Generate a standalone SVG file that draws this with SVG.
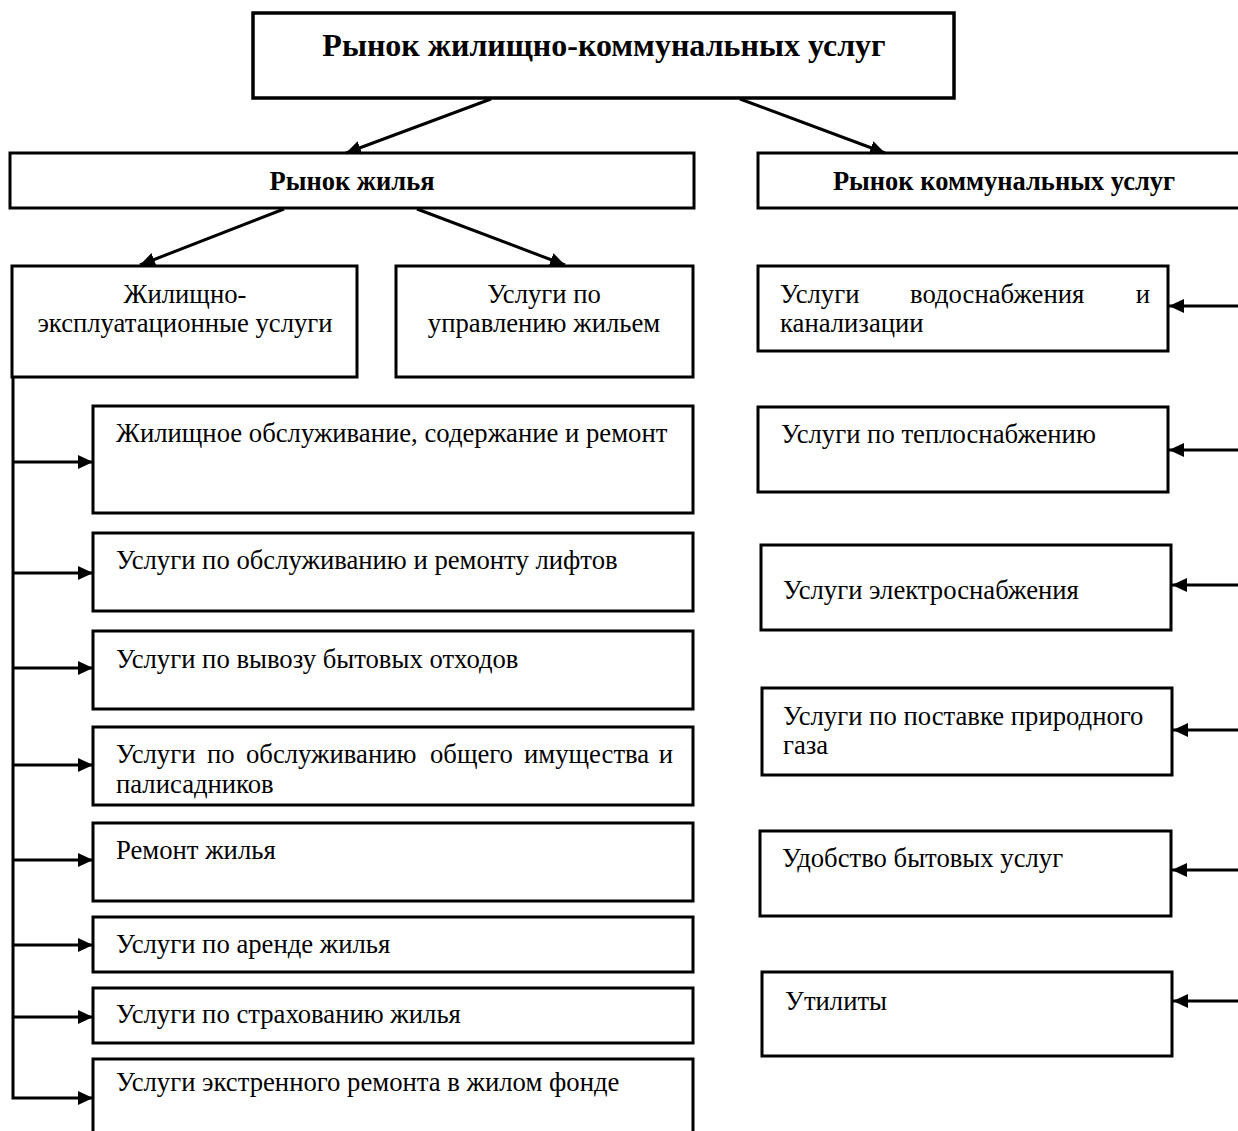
<svg xmlns="http://www.w3.org/2000/svg" width="1238" height="1131" viewBox="0 0 1238 1131">
<style>
.box{fill:#fff;stroke:#000;stroke-width:3}
.t{font-family:"Liberation Serif","Times New Roman",serif;font-size:26.7px;fill:#000}
.b{font-weight:bold;font-size:26.5px}
.c{text-anchor:middle}
.ln{stroke:#000;stroke-width:3;fill:none}
</style>
<defs>
<marker id="ah" markerUnits="userSpaceOnUse" markerWidth="16" markerHeight="14" refX="15" refY="7" orient="auto">
<path d="M0,0 L15,7 L0,14 z" fill="#000"/>
</marker>
</defs>
<rect width="1238" height="1131" fill="#fff"/>

<g id="n-title"><rect class="box" x="253" y="13" width="701" height="85" style="stroke-width:3.5"/>
<text class="t b c" x="604" y="56" style="font-size:32px">Рынок жилищно-коммунальных услуг</text></g>

<g id="n-housing"><rect class="box" x="10" y="153" width="684" height="55"/>
<text class="t b c" x="352" y="190">Рынок жилья</text></g>

<g id="n-utility"><rect class="box" x="758" y="153" width="500" height="55"/>
<text class="t b c" x="1004" y="190">Рынок коммунальных услуг</text></g>

<g id="n-zhe"><rect class="box" x="12" y="266" width="345" height="111"/>
<text class="t c" x="185" y="303">Жилищно-</text>
<text class="t c" x="185" y="332">эксплуатационные услуги</text></g>

<g id="n-upr"><rect class="box" x="396" y="266" width="297" height="111"/>
<text class="t c" x="544" y="303">Услуги по</text>
<text class="t c" x="544" y="332">управлению жильем</text></g>

<g id="n-l1"><rect class="box" x="93" y="406" width="600" height="107"/>
<text class="t" x="116" y="442">Жилищное обслуживание, содержание и ремонт</text></g>
<g id="n-l2"><rect class="box" x="93" y="533" width="600" height="78"/>
<text class="t" x="116" y="569">Услуги по обслуживанию и ремонту лифтов</text></g>
<g id="n-l3"><rect class="box" x="93" y="631" width="600" height="78"/>
<text class="t" x="116" y="668">Услуги по вывозу бытовых отходов</text></g>
<g id="n-l4"><rect class="box" x="93" y="727" width="600" height="78"/>
<text class="t" y="763"><tspan x="116">Услуги</tspan><tspan x="207">по</tspan><tspan x="246">обслуживанию</tspan><tspan x="430">общего</tspan><tspan x="524">имущества</tspan></text>
<text class="t" x="673" y="763" style="text-anchor:end">и</text>
<text class="t" x="116" y="793">палисадников</text></g>
<g id="n-l5"><rect class="box" x="93" y="823" width="600" height="78"/>
<text class="t" x="116" y="859">Ремонт жилья</text></g>
<g id="n-l6"><rect class="box" x="93" y="917" width="600" height="55"/>
<text class="t" x="116" y="953">Услуги по аренде жилья</text></g>
<g id="n-l7"><rect class="box" x="93" y="988" width="600" height="55"/>
<text class="t" x="116" y="1023">Услуги по страхованию жилья</text></g>
<g id="n-l8"><rect class="box" x="93" y="1059" width="600" height="100"/>
<text class="t" x="116" y="1091">Услуги экстренного ремонта в жилом фонде</text></g>

<g id="n-r1"><rect class="box" x="758" y="266" width="410" height="85"/>
<text class="t" y="303"><tspan x="780">Услуги</tspan><tspan x="910">водоснабжения</tspan></text>
<text class="t" x="1150" y="303" style="text-anchor:end">и</text>
<text class="t" x="780" y="332">канализации</text></g>
<g id="n-r2"><rect class="box" x="758" y="407" width="410" height="85"/>
<text class="t" x="781" y="443">Услуги по теплоснабжению</text></g>
<g id="n-r3"><rect class="box" x="761" y="545" width="410" height="85"/>
<text class="t" x="783" y="599">Услуги электроснабжения</text></g>
<g id="n-r4"><rect class="box" x="762" y="688" width="410" height="87"/>
<text class="t" x="783" y="725">Услуги по поставке природного</text>
<text class="t" x="783" y="754">газа</text></g>
<g id="n-r5"><rect class="box" x="760" y="831" width="411" height="85"/>
<text class="t" x="782" y="867">Удобство бытовых услуг</text></g>
<g id="n-r6"><rect class="box" x="762" y="972" width="410" height="84"/>
<text class="t" x="785" y="1010">Утилиты</text></g>

<g id="connectors">
<line class="ln" x1="491" y1="99" x2="346" y2="153" marker-end="url(#ah)"/>
<line class="ln" x1="740" y1="99" x2="885" y2="153" marker-end="url(#ah)"/>
<line class="ln" x1="284" y1="209" x2="140" y2="265" marker-end="url(#ah)"/>
<line class="ln" x1="417" y1="209" x2="565" y2="265" marker-end="url(#ah)"/>
<polyline class="ln" points="13,377 13,1098 93,1098" marker-end="url(#ah)"/>
<line class="ln" x1="13" y1="462" x2="93" y2="462" marker-end="url(#ah)"/>
<line class="ln" x1="13" y1="573" x2="93" y2="573" marker-end="url(#ah)"/>
<line class="ln" x1="13" y1="668" x2="93" y2="668" marker-end="url(#ah)"/>
<line class="ln" x1="13" y1="765" x2="93" y2="765" marker-end="url(#ah)"/>
<line class="ln" x1="13" y1="860" x2="93" y2="860" marker-end="url(#ah)"/>
<line class="ln" x1="13" y1="945" x2="93" y2="945" marker-end="url(#ah)"/>
<line class="ln" x1="13" y1="1017" x2="93" y2="1017" marker-end="url(#ah)"/>
<line class="ln" x1="1240" y1="306" x2="1169" y2="306" marker-end="url(#ah)"/>
<line class="ln" x1="1240" y1="450" x2="1169" y2="450" marker-end="url(#ah)"/>
<line class="ln" x1="1240" y1="585" x2="1172" y2="585" marker-end="url(#ah)"/>
<line class="ln" x1="1240" y1="730" x2="1173" y2="730" marker-end="url(#ah)"/>
<line class="ln" x1="1240" y1="870" x2="1172" y2="870" marker-end="url(#ah)"/>
<line class="ln" x1="1240" y1="1001" x2="1173" y2="1001" marker-end="url(#ah)"/>
</g>
</svg>
